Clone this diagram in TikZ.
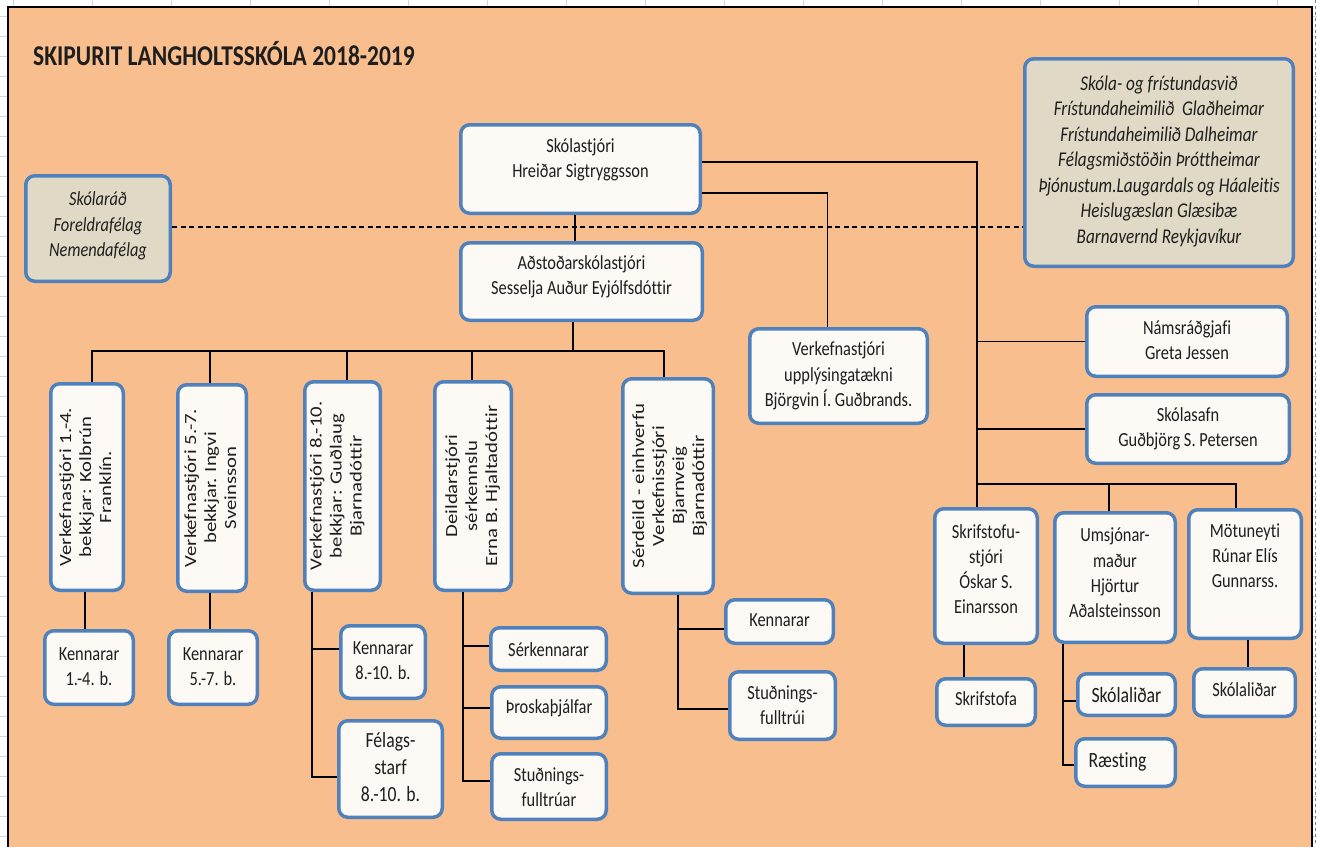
\documentclass[tikz,border=0pt]{standalone}
\usepackage{fontspec}
\setmainfont{Carlito}[Ligatures=NoCommon]
\usepackage{graphicx}
\definecolor{orangebg}{RGB}{248,190,141}
\definecolor{bblue}{RGB}{79,129,189}
\definecolor{boxfill}{RGB}{253,250,245}
\definecolor{beige}{RGB}{224,217,198}
\definecolor{gridc}{RGB}{214,214,214}
\definecolor{txtc}{RGB}{30,30,30}
\newcommand\bfnt{\fontsize{16.4}{20.5}\selectfont}
\newcommand\bxt[1]{\scalebox{1}[1.22]{\begin{tabular}{@{}c@{}}#1\end{tabular}}}
\newcommand\rtx[1]{\scalebox{1}[1.22]{\rotatebox{90}{\begin{tabular}{@{}c@{}}#1\end{tabular}}}}
\newcommand\upb[2]{\raisebox{#1}[\height][\depth]{#2}}
\tikzset{
  box/.style={draw=bblue, line width=3.5pt, rounded corners=9pt, fill=boxfill, inner sep=0pt, font=\bfnt, text=txtc},
  gbox/.style={box, fill=beige, font=\bfnt\itshape},
  vbox/.style={box, font=\fontsize{17}{20}\selectfont},
  conn/.style={line width=1.2pt, black},
}
\begin{document}
\begin{tikzpicture}[x=1pt,y=-1pt]
\useasboundingbox (0,0) rectangle (1317,846);
\fill[white] (0,0) rectangle (1317,846);
\foreach \x in {13,92,...,1317} \draw[gridc, line width=0.8pt] (\x,0) -- (\x,846);
\foreach \y in {16,36,...,846} \draw[gridc, line width=0.8pt] (0,\y) -- (1317,\y);
\draw[gray, dashed, line width=0.8pt] (1315.5,0) -- (1315.5,846);
\fill[orangebg] (8,7) rectangle (1312,860);
\draw[line width=2pt] (8,860) -- (8,7) -- (1312,7) -- (1312,860);

\node[anchor=base west, inner sep=0pt, font=\fontsize{23.5}{28}\selectfont\bfseries, text=txtc] (title) at (33,65) {\scalebox{1}[1.22]{SKIPURIT LANGHOLTSSKÓLA 2018-2019}};

% top
\node[box, minimum width=239.5pt, minimum height=88.5pt] (skol) at (580.5,169) {\upb{9pt}{\bxt{Skólastjóri\\Hreiðar Sigtryggsson}}};
\node[box, minimum width=241.5pt, minimum height=77.5pt] (adst) at (581.5,281.5) {\upb{5pt}{\bxt{Aðstoðarskólastjóri\\Sesselja Auður Eyjólfsdóttir}}};
\node[box, minimum width=177.5pt, minimum height=94.5pt] (vu) at (838.5,376) {\bxt{Verkefnastjóri\\upplýsingatækni\\Björgvin Í. Guðbrands.}};
\node[gbox, minimum width=144.5pt, minimum height=105.5pt] (rad) at (98,228.5) {\upb{2.5pt}{\bxt{Skólaráð\\Foreldrafélag\\Nemendafélag}}};
\node[gbox, minimum width=268.5pt, minimum height=207.5pt, font=\fontsize{17.2}{20.9}\selectfont\itshape] (fri) at (1159,162.5) {\upb{1pt}{\bxt{Skóla- og frístundasvið\\Frístundaheimilið\ \ Glaðheimar\\Frístundaheimilið Dalheimar\\Félagsmiðstöðin Þróttheimar\\Þjónustum.Laugardals og Háaleitis\\Heislugæslan Glæsibæ\\Barnavernd Reykjavíkur}}};
\node[box, minimum width=200.5pt, minimum height=69.5pt] (nam) at (1187,341.5) {\bxt{Námsráðgjafi\\Greta Jessen}};
\node[box, minimum width=202.5pt, minimum height=68.5pt] (safn) at (1188,429) {\bxt{Skólasafn\\Guðbjörg S. Petersen}};

% vertical boxes
\node[vbox, minimum width=72.5pt, minimum height=206.5pt] (v14) at (87,487) {\rtx{Verkefnastjóri 1.-4.\\bekkjar: Kolbrún\\Franklín.}};
\node[vbox, minimum width=68.5pt, minimum height=206.5pt] (v57) at (212,488) {\rtx{Verkefnastjóri 5.-7.\\bekkjar. Ingvi\\Sveinsson}};
\node[vbox, minimum width=75.5pt, minimum height=208.5pt] (v810) at (342.5,486) {\rtx{Verkefnastjóri 8.-10.\\bekkjar: Guðlaug\\Bjarnadóttir}\kern10pt};
\node[vbox, minimum width=76.5pt, minimum height=208.5pt] (deild) at (473,486) {\rtx{Deildarstjóri\\sérkennslu\\Erna B. Hjaltadóttir}};
\node[vbox, minimum width=90.5pt, minimum height=214.5pt] (serd) at (668,486) {\kern4pt\rtx{Sérdeild - einhverfu\\Verkefnisstjóri\\Bjarnveig\\Bjarnadóttir}};

% lower boxes
\node[box, minimum width=88.5pt, minimum height=73.5pt] (k14) at (89,667.5) {\bxt{Kennarar\\1.-4. b.}};
\node[box, minimum width=88.5pt, minimum height=73.5pt] (k57) at (213,667.5) {\bxt{Kennarar\\5.-7. b.}};
\node[box, minimum width=84.5pt, minimum height=72.5pt] (k810) at (383,662) {\bxt{Kennarar\\8.-10. b.}};
\node[box, minimum width=103.5pt, minimum height=96.5pt, font=\fontsize{17.7}{22}\selectfont] (fel) at (390.5,769) {\bxt{Félags-\\starf\\8.-10. b.}};
\node[box, minimum width=115.5pt, minimum height=42.5pt] (serk) at (548.5,649) {\upb{-2pt}{\bxt{Sérkennarar}}};
\node[box, minimum width=114.5pt, minimum height=51.5pt] (thro) at (549,712.5) {\upb{4.5pt}{\bxt{Þroskaþjálfar}}};
\node[box, minimum width=114.5pt, minimum height=65.5pt] (studn) at (549,786.5) {\upb{-2.5pt}{\bxt{Stuðnings-\\fulltrúar}}};
\node[box, minimum width=107.5pt, minimum height=43.5pt] (kenn) at (779.5,621.5) {\bxt{Kennarar}};
\node[box, minimum width=105.5pt, minimum height=67.5pt] (studni) at (782.5,705.5) {\upb{-1pt}{\bxt{Stuðnings-\\fulltrúi}}};

% right lower
\node[box, minimum width=102.5pt, minimum height=134.5pt] (skrst) at (986,576) {\upb{5pt}{\bxt{Skrifstofu-\\stjóri\\Óskar S.\\Einarsson}}};
\node[box, minimum width=120.5pt, minimum height=129.5pt] (ums) at (1115,577.5) {\upb{3pt}{\bxt{Umsjónar-\\maður\\Hjörtur\\Aðalsteinsson}}};
\node[box, minimum width=112.5pt, minimum height=128.5pt] (mot) at (1245,574) {\upb{16.5pt}{\bxt{Mötuneyti\\Rúnar Elís\\Gunnarss.}}};
\node[box, minimum width=98.5pt, minimum height=46.5pt] (skrifa) at (986,702) {\upb{2pt}{\bxt{Skrifstofa}}};
\node[box, minimum width=97.5pt, minimum height=41.5pt, font=\fontsize{17.8}{21}\selectfont] (skl1) at (1126.5,694.5) {\upb{-2.5pt}{\bxt{Skólaliðar}}};
\node[box, minimum width=99.5pt, minimum height=47.5pt, font=\fontsize{17.8}{21}\selectfont] (raest) at (1125.5,762.5) {\bxt{Ræsting}\kern16pt};
\node[box, minimum width=101.5pt, minimum height=47.5pt] (skl2) at (1244.5,692.5) {\upb{1.5pt}{\bxt{Skólaliðar}}};

% connectors
\path ([xshift=-5.5pt]skol.south) coordinate (skb);
\draw[conn] (skb) -- (skb |- adst.north);
\draw[conn] ([yshift=-24pt]skol.east) -| ([xshift=-11pt]vu.north);
\draw[conn] ([yshift=7pt]skol.east) -| ([xshift=-9pt]skrst.north);
\coordinate (rbus) at (977,484);
\draw[conn] (nam.west) -- (nam.west -| rbus);
\draw[conn] (safn.west) -- (safn.west -| rbus);
\draw[conn] (rbus) -| ([xshift=-9pt]mot.north);
\path ([xshift=-6pt]ums.north) coordinate (umst);
\draw[conn] (umst) -- (umst |- rbus);

\coordinate (abus) at (573,351);
\draw[conn] ([xshift=-8.5pt]adst.south) -- (abus);
\draw[conn] ([xshift=5pt]v14.north) |- (abus) -| ([xshift=-4pt]serd.north);
\path ([xshift=-2pt]v57.north) coordinate (v57t);
\draw[conn] (v57t) -- (v57t |- abus);
\path ([xshift=4.5pt]v810.north) coordinate (v810t);
\draw[conn] (v810t) -- (v810t |- abus);
\path ([xshift=-1pt]deild.north) coordinate (deit);
\draw[conn] (deit) -- (deit |- abus);

\path ([xshift=-2pt]v14.south) coordinate (v14b);
\draw[conn] (v14b) -- (v14b |- k14.north);
\path ([xshift=-2pt]v57.south) coordinate (v57b);
\draw[conn] (v57b) -- (v57b |- k57.north);

\path ([xshift=-30.5pt]v810.south) coordinate (v8b);
\path ([yshift=13pt]k810.west) coordinate (k8w);
\path ([yshift=-8pt]fel.west) coordinate (felw);
\draw[conn] (v8b) |- (felw);
\draw[conn] (k8w) -- (k8w -| v8b);

\path ([xshift=-10pt]deild.south) coordinate (deb);
\path ([yshift=3pt]serk.west) coordinate (sw1);
\path ([yshift=4.5pt]thro.west) coordinate (sw2);
\path ([yshift=5.5pt]studn.west) coordinate (sw3);
\draw[conn] (deb) |- (sw3);
\draw[conn] (sw1) -- (sw1 -| deb);
\draw[conn] (sw2) -- (sw2 -| deb);

\path ([xshift=10pt]serd.south) coordinate (sdb);
\path ([yshift=-7.5pt]kenn.west) coordinate (kw);
\path ([yshift=-3.5pt]studni.west) coordinate (stw);
\draw[conn] (sdb) |- (stw);
\draw[conn] (kw) -- (kw -| sdb);

\path ([xshift=-22pt]skrst.south) coordinate (skb2);
\draw[conn] (skb2) -- (skb2 |- skrifa.north);
\path ([xshift=-52pt]ums.south) coordinate (umb);
\path ([yshift=-6.5pt]skl1.west) coordinate (s1w);
\path ([yshift=-2.5pt]raest.west) coordinate (rw);
\draw[conn] (umb) |- (rw);
\draw[conn] (s1w) -- (s1w -| umb);
\path ([xshift=3pt]mot.south) coordinate (mb);
\draw[conn] (mb) -- (mb |- skl2.north);

\path ([yshift=1.5pt]rad.east) coordinate (rde);
\draw[line width=1.3pt, dash pattern=on 5pt off 3.5pt] (rde) -- (rde -| fri.west);
\end{tikzpicture}
\end{document}
